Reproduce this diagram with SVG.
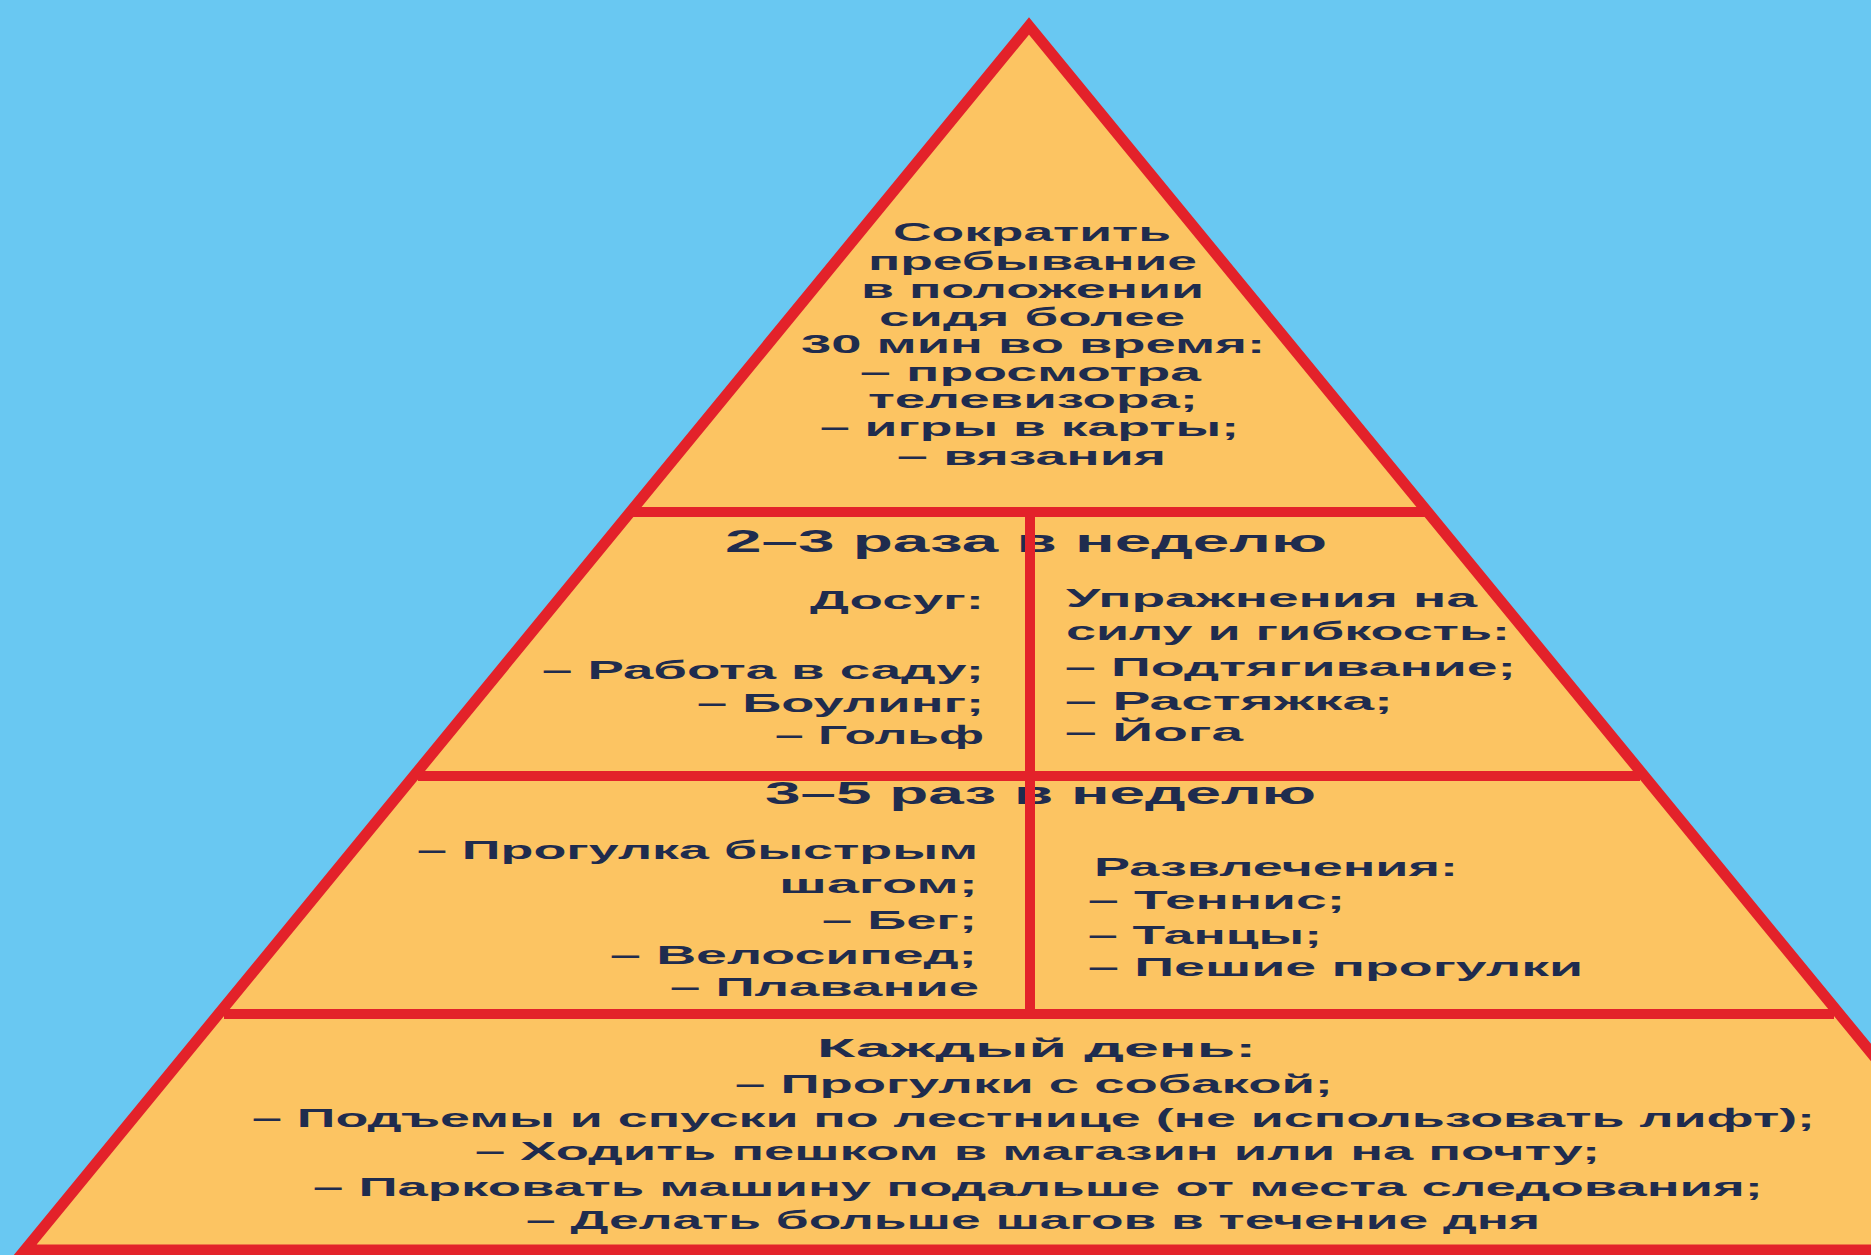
<svg xmlns="http://www.w3.org/2000/svg" width="1871" height="1255" viewBox="0 0 1871 1255">
<style>
.t{font-family:"Liberation Sans",Arial,sans-serif;font-weight:bold;fill:#1f2c4e;font-size:25px}
.h{font-size:31px}
.ln{stroke:#e3222a;stroke-width:10;fill:none}
</style>
<rect x="0" y="0" width="1871" height="1255" fill="#69c8f2"/>
<g id="pyramid">
<polygon points="1029,26 2033,1250 25,1250" fill="#fcc462" stroke="#e3222a" stroke-width="11" stroke-linejoin="miter"/>
</g>
<g id="connectors">
<line class="ln" x1="633" y1="512" x2="1425" y2="512"/>
<line class="ln" x1="418" y1="776" x2="1640" y2="776"/>
<line class="ln" x1="224" y1="1014" x2="1834" y2="1014"/>
<line class="ln" x1="25" y1="1251" x2="1871" y2="1251"/>
</g>
<g id="top">
<text class="t" x="893" y="241" textLength="278" lengthAdjust="spacingAndGlyphs">Сократить</text>
<text class="t" x="868" y="270" textLength="329" lengthAdjust="spacingAndGlyphs">пребывание</text>
<text class="t" x="861" y="298" textLength="343" lengthAdjust="spacingAndGlyphs">в положении</text>
<text class="t" x="879" y="326" textLength="306" lengthAdjust="spacingAndGlyphs">сидя более</text>
<text class="t" x="801" y="353" textLength="464" lengthAdjust="spacingAndGlyphs">30 мин во время:</text>
<text class="t" x="860" y="381" textLength="341" lengthAdjust="spacingAndGlyphs">– просмотра</text>
<text class="t" x="868" y="408" textLength="330" lengthAdjust="spacingAndGlyphs">телевизора;</text>
<text class="t" x="820" y="436" textLength="419" lengthAdjust="spacingAndGlyphs">– игры в карты;</text>
<text class="t" x="897" y="465" textLength="269" lengthAdjust="spacingAndGlyphs">– вязания</text>
</g>
<g id="band2">
<text class="t h" x="725" y="552" textLength="602" lengthAdjust="spacingAndGlyphs">2–3 раза в неделю</text>
<g id="leisure">
<text class="t" x="810" y="609" textLength="174" lengthAdjust="spacingAndGlyphs">Досуг:</text>
<text class="t" x="542" y="679" textLength="442" lengthAdjust="spacingAndGlyphs">– Работа в саду;</text>
<text class="t" x="697" y="712" textLength="287" lengthAdjust="spacingAndGlyphs">– Боулинг;</text>
<text class="t" x="775" y="744" textLength="209" lengthAdjust="spacingAndGlyphs">– Гольф</text>
</g>
<g id="strength">
<text class="t" x="1066" y="607" textLength="411" lengthAdjust="spacingAndGlyphs">Упражнения на</text>
<text class="t" x="1066" y="640" textLength="444" lengthAdjust="spacingAndGlyphs">силу и гибкость:</text>
<text class="t" x="1065" y="676" textLength="451" lengthAdjust="spacingAndGlyphs">– Подтягивание;</text>
<text class="t" x="1065" y="710" textLength="328" lengthAdjust="spacingAndGlyphs">– Растяжка;</text>
<text class="t" x="1065" y="741" textLength="178" lengthAdjust="spacingAndGlyphs">– Йога</text>
</g>
</g>
<g id="band3">
<text class="t h" x="765" y="804" textLength="551" lengthAdjust="spacingAndGlyphs">3–5 раз в неделю</text>
<g id="aerobic">
<text class="t" x="417" y="859" textLength="561" lengthAdjust="spacingAndGlyphs">– Прогулка быстрым</text>
<text class="t" x="779" y="893" textLength="199" lengthAdjust="spacingAndGlyphs">шагом;</text>
<text class="t" x="822" y="929" textLength="155" lengthAdjust="spacingAndGlyphs">– Бег;</text>
<text class="t" x="610" y="964" textLength="367" lengthAdjust="spacingAndGlyphs">– Велосипед;</text>
<text class="t" x="670" y="996" textLength="309" lengthAdjust="spacingAndGlyphs">– Плавание</text>
</g>
<g id="recreation">
<text class="t" x="1094" y="876" textLength="364" lengthAdjust="spacingAndGlyphs">Развлечения:</text>
<text class="t" x="1088" y="909" textLength="257" lengthAdjust="spacingAndGlyphs">– Теннис;</text>
<text class="t" x="1088" y="944" textLength="234" lengthAdjust="spacingAndGlyphs">– Танцы;</text>
<text class="t" x="1088" y="976" textLength="495" lengthAdjust="spacingAndGlyphs">– Пешие прогулки</text>
</g>
</g>
<g id="dividers">
<line class="ln" x1="1030" y1="507" x2="1030" y2="781" stroke-width="13"/>
<line class="ln" x1="1030" y1="771" x2="1030" y2="1019" stroke-width="13"/>
</g>
<g id="daily">
<text class="t" x="817" y="1057" textLength="439" lengthAdjust="spacingAndGlyphs">Каждый день:</text>
<text class="t" x="735" y="1093" textLength="598" lengthAdjust="spacingAndGlyphs">– Прогулки с собакой;</text>
<text class="t" x="252" y="1127" textLength="1563" lengthAdjust="spacingAndGlyphs">– Подъемы и спуски по лестнице (не использовать лифт);</text>
<text class="t" x="475" y="1160" textLength="1125" lengthAdjust="spacingAndGlyphs">– Ходить пешком в магазин или на почту;</text>
<text class="t" x="313" y="1196" textLength="1450" lengthAdjust="spacingAndGlyphs">– Парковать машину подальше от места следования;</text>
<text class="t" x="526" y="1229" textLength="1014" lengthAdjust="spacingAndGlyphs">– Делать больше шагов в течение дня</text>
</g>
</svg>
